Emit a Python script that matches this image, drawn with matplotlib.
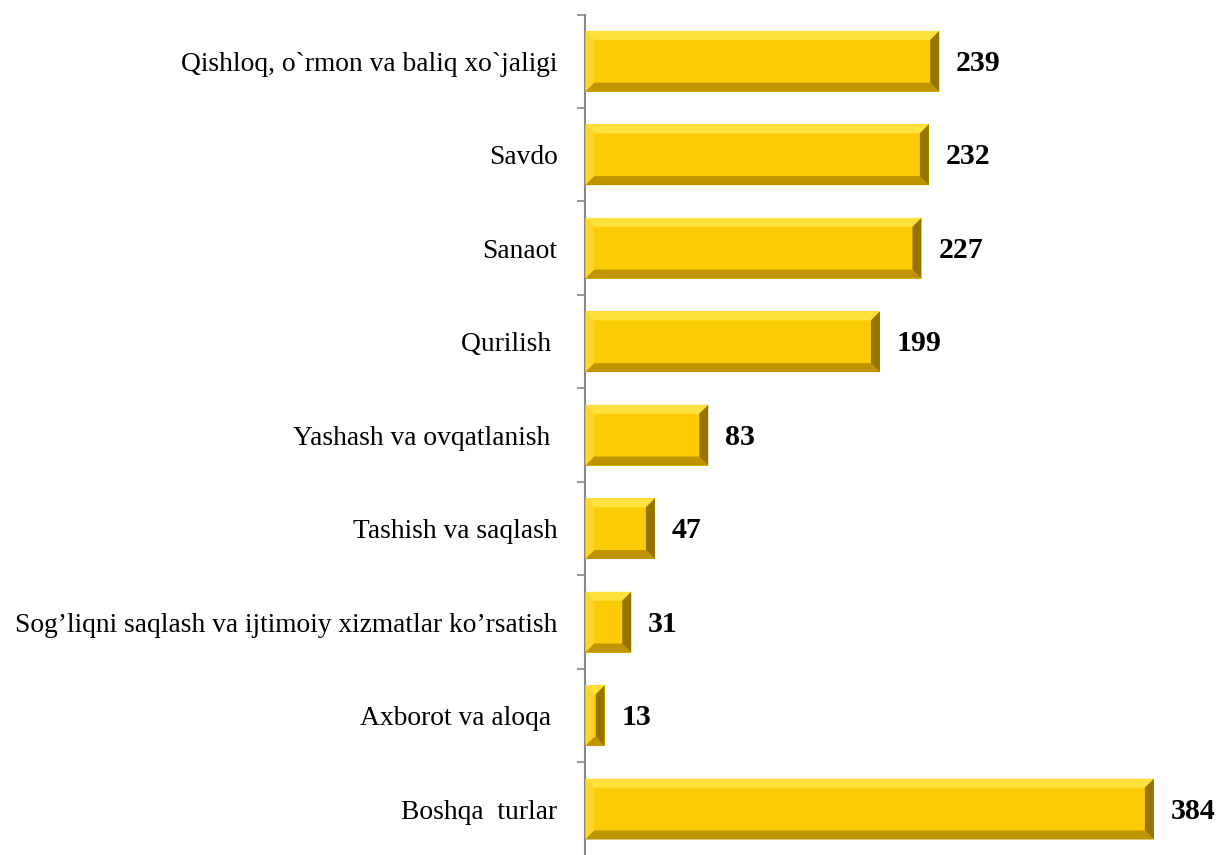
import numpy as np
import matplotlib.pyplot as plt
from matplotlib.patches import Polygon

# data, top to bottom as in the chart
categories = [
    "Qishloq, o`rmon va baliq xo`jaligi",
    "Savdo",
    "Sanaot",
    "Qurilish ",
    "Yashash va ovqatlanish ",
    "Tashish va saqlash",
    "Sog\u2019liqni saqlash va ijtimoiy xizmatlar ko\u2019rsatish",
    "Axborot va aloqa ",
    "Boshqa  turlar",
]
values = [239, 232, 227, 199, 83, 47, 31, 13, 384]

plt.rcParams['font.family'] = ['Liberation Serif', 'DejaVu Serif']

fig = plt.figure(figsize=(12.22, 8.55), dpi=100)
ax = fig.add_axes([0.479, -0.001, 0.521, 0.984])

y = np.arange(len(categories))
bar_h = 0.65
face = '#FDCB05'
bars = ax.barh(y, values, height=bar_h, color=face, edgecolor='none', zorder=2)

ax.set_xlim(0, 430)
ax.set_ylim(len(categories) - 0.5, -0.5)

# bevel edges, sized in pixels then converted to data units
fig.canvas.draw()
p0 = ax.transData.transform((0, 0))
p1 = ax.transData.transform((1, 1))
bev = 9
dx = bev / abs(p1[0] - p0[0])
dy = bev / abs(p1[1] - p0[1])
for rect in bars:
    x0 = rect.get_x()
    x1 = x0 + rect.get_width()
    yt = rect.get_y()          # smaller y = top (inverted axis)
    yb = yt + rect.get_height()
    bx = min(dx, (x1 - x0) / 2.2)
    top = Polygon([(x0, yt), (x1, yt), (x1 - bx, yt + dy), (x0 + bx, yt + dy)],
                  closed=True, color='#FFE03C', lw=0, zorder=3)
    left = Polygon([(x0, yt), (x0 + bx, yt + dy), (x0 + bx, yb - dy), (x0, yb)],
                   closed=True, color='#FFD624', lw=0, zorder=3)
    bottom = Polygon([(x0, yb), (x1, yb), (x1 - bx, yb - dy), (x0 + bx, yb - dy)],
                     closed=True, color='#BE9400', lw=0, zorder=3)
    right = Polygon([(x1, yt), (x1, yb), (x1 - bx, yb - dy), (x1 - bx, yt + dy)],
                    closed=True, color='#957400', lw=0, zorder=3)
    for p in (top, left, bottom, right):
        ax.add_patch(p)

for yi, v in zip(y, values):
    ax.annotate(str(v), (v, yi), xytext=(17, -2), textcoords='offset pixels',
                ha='left', va='center', fontsize=21.5, fontweight='bold', color='black')

ax.set_yticks(y)
ax.set_yticklabels(categories, fontsize=19.8)
ax.tick_params(axis='y', which='major', length=0, pad=20)
ax.set_yticks(np.arange(len(categories) + 1) - 0.5, minor=True)
ax.tick_params(axis='y', which='minor', length=6, width=1.2, color='#888888')
ax.set_xticks([])

for s in ['top', 'right', 'bottom']:
    ax.spines[s].set_visible(False)
ax.spines['left'].set_color('#888888')
ax.spines['left'].set_linewidth(1.5)

fig.savefig('out.png', dpi=100)
